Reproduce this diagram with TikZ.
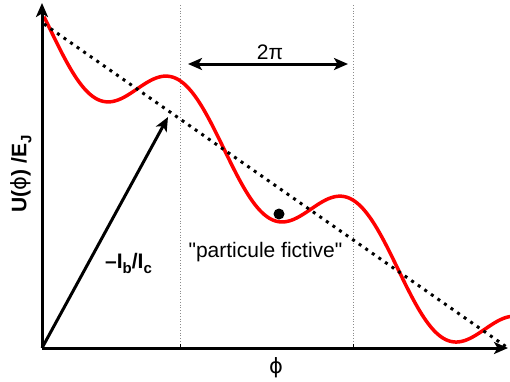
\documentclass[tikz,border=0pt]{standalone}
\usepackage{fontspec}
\setmainfont{Liberation Sans}
\newfontfamily\plainsans{Liberation Sans}
\newfontfamily\phifont{DejaVu Sans}
\usepackage{xcolor}
\usetikzlibrary{positioning,arrows.meta}
\definecolor{potred}{HTML}{FF0000}
\newcommand{\lowsub}[1]{\raisebox{-0.45ex}{\fontsize{15}{15}\selectfont #1}}
\newcommand{\phis}{{\phifont\mdseries ϕ}}

\begin{document}
\begin{tikzpicture}[x=1pt, y=-1pt,
    every node/.style={font=\fontsize{21}{24}\selectfont, inner sep=0pt},
    vec/.style={line width=3pt, -{Stealth[length=14pt,width=12pt,inset=3.5pt]}},
    guide/.style={black!45, line width=0.8pt, dotted}]
  \useasboundingbox (0,0) rectangle (510,381);
  \coordinate (O) at (42,348);
  \coordinate (ytop) at (42,3);
  \coordinate (xend) at (508,348);
  \coordinate (g1) at (180,5);
  \coordinate (g2) at (353,5);
  \coordinate (tilt) at (44,24);
  \coordinate (ibtip) at (168,117);
  \coordinate (pl) at (188,64);
  \coordinate (pr) at (348,64);
  % period guides
  \draw[guide] (g1) -- (g1|-O);
  \draw[guide] (g2) -- (g2|-O);
  \draw[line width=1pt] (g1|-O) -- ++(0,-4);
  \draw[line width=1pt] (g2|-O) -- ++(0,-4);
  % washboard potential
  \draw[potred, line width=3.5pt] plot[domain=44:512, samples=240]
    (\x, {89 + 0.69*(\x-137) - 38*sin(2.069*(\x-137))});
  \draw[line width=3pt, dash pattern=on 3pt off 5pt] (tilt) -- (xend);
  \node[circle, fill, minimum size=11pt] (ball) at (279,214) {};
  % axes
  \draw[vec] (O) -- (ytop);
  \draw[vec] (O) -- (xend);
  \draw[vec] (O) -- (ibtip);
  \draw[vec, {Stealth[length=14pt,width=12pt,inset=3.5pt]}-{Stealth[length=14pt,width=12pt,inset=3.5pt]}] (pl) -- (pr);
  % labels
  \node[rotate=90] (ylab) at (21,174) {\bfseries U(\phis) /E\lowsub{J}};
  \node[anchor=center] (xlab) at (276,368) {\phis};
  \node[anchor=base] (per) at (270,59) {2π};
  \node[anchor=base west] (ratio) at (105,268) {\bfseries –I\lowsub{b}/I\lowsub{c}};
  \node[anchor=base] (fict) at (265.5,257.5) {\plainsans "particule fictive"};
\end{tikzpicture}
\end{document}
